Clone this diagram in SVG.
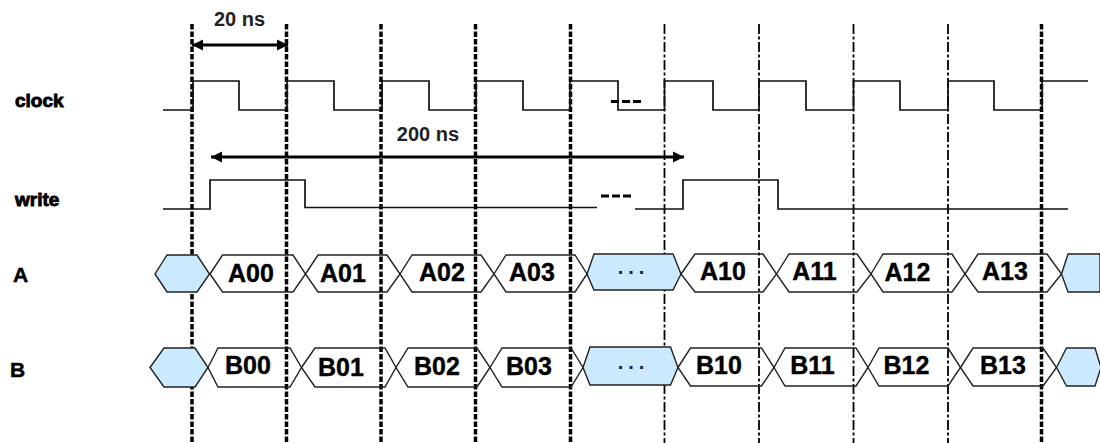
<svg xmlns="http://www.w3.org/2000/svg" width="1100" height="443" viewBox="0 0 1100 443">
<style>
text{font-family:"Liberation Sans",Arial,sans-serif;fill:#000;font-weight:bold}
.lbl{font-size:19px;stroke:#000;stroke-width:.9}
.cell{font-size:25px;text-anchor:middle;stroke:#000;stroke-width:.4}
.ns{font-size:20px;text-anchor:middle;fill:#222}
.dots{font-size:20px;text-anchor:middle;fill:#1a1a60;letter-spacing:5px}
.thick{stroke:#000;stroke-width:3.500;stroke-dasharray:5.500 2;fill:none}
.thin{stroke:#000;stroke-width:1.8;stroke-dasharray:10 2.500 3 2.500;fill:none}
.sig{stroke:#111;stroke-width:1.7;fill:none}
.dash{stroke:#000;stroke-width:3;stroke-dasharray:8 3;fill:none}
.arr{stroke:#000;stroke-width:3;fill:none;marker-start:url(#h);marker-end:url(#h)}
.w{fill:none;stroke:#222;stroke-width:1.4}
.b{fill:#cceaff;stroke:#222;stroke-width:1.4}
</style>
<defs><marker id="h" markerUnits="userSpaceOnUse" markerWidth="12" markerHeight="14" refX="11" refY="7" orient="auto-start-reverse"><path d="M0 1.500L11 7L0 12.500Z" fill="#000"/></marker></defs>
<g id="connectors">
<path class="thick" d="M192 24V443M286.500 24V443M381 24V443M475.500 24V443M570.500 24V443M1041.500 24V443"/>
<path class="thin" d="M664.500 24V443M759 24V443M853.500 24V443M948 24V443"/>
<path class="arr" d="M192 45H288"/>
<path class="arr" d="M211 157H684"/>
</g>
<g id="clock"><text class="lbl" x="15" y="107">clock</text>
<path class="sig" d="M163 110H193V81H239V110H287V81H334V110H382V81H429V110H476V81H523V110H570V81H618V110H664.500V81H713V110H759V81H806V110H853.500V81H900V110H948V81H994V110H1042V81H1088"/>
<path class="dash" d="M611 101.500H641"/></g>
<g id="write"><text class="lbl" x="15" y="206">write</text>
<path class="sig" d="M163 209H210V180H305V207.500H597"/>
<path class="sig" d="M635 209H683V180H778V209H1068"/>
<path class="dash" d="M601 196H631"/></g>
<g id="label-20ns"><text class="ns" x="239.500" y="26">20 ns</text></g>
<g id="label-200ns"><text class="ns" x="428" y="141">200 ns</text></g>
<g id="bus-A"><text x="13" y="282" style="font-size:21px;stroke:#000;stroke-width:.5">A</text>
<path class="b" d="M155 274L167 255H197L209.500 274L197 292H167Z"/>
<path class="w" d="M210 274L222.500 255H293L305.500 274L293 292H222.500Z"/>
<path class="w" d="M305.500 274L318 255H387L400 274L387 292H318Z"/>
<path class="w" d="M400 274L412 255H481L494 274L481 292H412Z"/>
<path class="w" d="M494 274L506 255H575L587 274L575 292H506Z"/>
<path class="b" d="M587 274L594 254H673L681 274L673 290H594Z"/>
<path class="w" d="M681 274L695 254H763L776.500 274L763 292H695Z"/>
<path class="w" d="M776.500 274L789 254H857L871 274L857 292H789Z"/>
<path class="w" d="M871 274L883 254H952L965 274L952 292H883Z"/>
<path class="w" d="M965 274L978 254H1047L1061.500 274L1047 292H978Z"/>
<path class="b" d="M1061.500 274L1068 254H1100V292H1068Z"/>
<text class="cell" x="251" y="282">A00</text><text class="cell" x="343" y="282">A01</text><text class="cell" x="442" y="281">A02</text><text class="cell" x="532" y="281">A03</text>
<text class="dots" x="633.500" y="274">...</text>
<text class="cell" x="723" y="280">A10</text><text class="cell" x="814.500" y="280">A11</text><text class="cell" x="907.500" y="281">A12</text><text class="cell" x="1005" y="280">A13</text></g>
<g id="bus-B"><text x="10" y="377" style="font-size:21px;stroke:#000;stroke-width:.5">B</text>
<path class="b" d="M150 367.500L164 348H195L208 367.500L195 387H164Z"/>
<path class="w" d="M208 367.500L218 348H290L301.500 367.500L290 387H218Z"/>
<path class="w" d="M301.500 367.500L315 348H385L396 367.500L385 387H315Z"/>
<path class="w" d="M396 367.500L408 348H477L490 367.500L477 387H408Z"/>
<path class="w" d="M490 367.500L502 348H571L583 367.500L571 387H502Z"/>
<path class="b" d="M583 367.500L590 347H670.500L678 367.500L670.500 385H590Z"/>
<path class="w" d="M678 367.500L690.500 348H761.500L774 367.500L761.500 386H690.500Z"/>
<path class="w" d="M774 367.500L785 348H856L868 367.500L856 386H785Z"/>
<path class="w" d="M868 367.500L879 348H948L960.500 367.500L948 386H879Z"/>
<path class="w" d="M960.500 367.500L973 348H1043L1056.500 367.500L1043 386H973Z"/>
<path class="b" d="M1056.500 367.500L1066.500 348H1095L1101 367.500L1095 386H1066.500Z"/>
<text class="cell" x="248" y="374">B00</text><text class="cell" x="341" y="375.500">B01</text><text class="cell" x="437" y="375">B02</text><text class="cell" x="529" y="375">B03</text>
<text class="dots" x="633.500" y="369">...</text>
<text class="cell" x="719" y="374">B10</text><text class="cell" x="812.500" y="374">B11</text><text class="cell" x="906.500" y="374">B12</text><text class="cell" x="1003" y="374">B13</text></g>
</svg>
